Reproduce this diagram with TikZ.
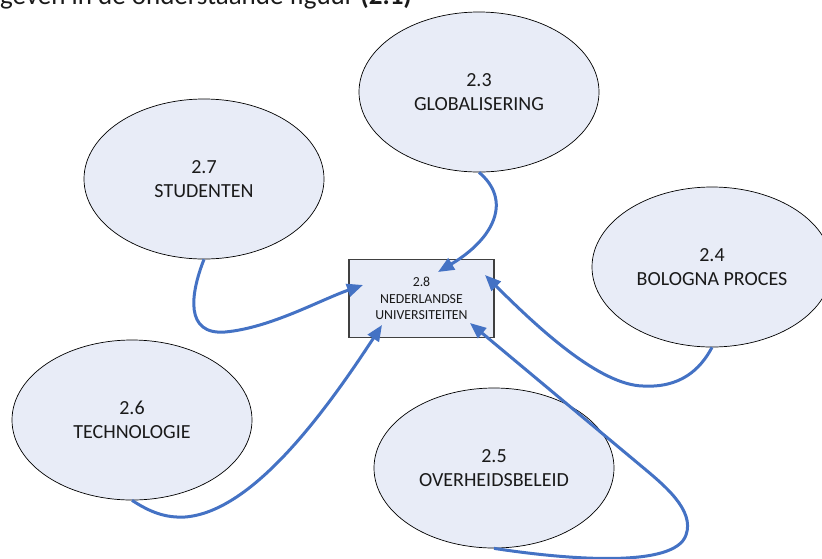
\documentclass[tikz,border=0pt]{standalone}
\usepackage{fontspec}
\setmainfont{Carlito}
\usetikzlibrary{arrows.meta,shapes.geometric}
\definecolor{bolfill}{HTML}{E8ECF7}
\definecolor{pijlblauw}{HTML}{4472C4}
\definecolor{tekst}{HTML}{1A1A1A}
\begin{document}
\begin{tikzpicture}[x=1pt, y=-1pt, >={Triangle[length=16pt,width=13pt]},
  factor/.style={ellipse, draw=black, line width=.7pt, fill=bolfill, minimum width=240pt,
    minimum height=160pt, inner sep=0pt, align=center, text=tekst, font=\fontsize{20}{23.5}\selectfont},
  kern/.style={rectangle, draw=black!75, line width=1.2pt, fill=bolfill, minimum width=145pt,
    minimum height=78pt, inner sep=0pt, align=center, text=tekst, font=\fontsize{13.8}{16.5}\selectfont},
  invloed/.style={->, draw=pijlblauw, line width=3pt}]
\useasboundingbox (0,0) rectangle (822,558);
\clip (0,0) rectangle (822,558);
% inleidende zin, bovenaan afgesneden
\node[anchor=base west, inner sep=0pt, text=tekst, font=\fontsize{27}{31}\selectfont] (intro) at (0,4.5)
  {geven in de onderstaande figuur \textbf{(2.1)}};
% de vijf factoren en de universiteiten
\node[factor] (glob) at (479,92) {2.3\\GLOBALISERING};
\node[factor] (stud) at (204,179) {2.7\\STUDENTEN};
\node[factor] (bolo) at (712,267) {2.4\\BOLOGNA PROCES};
\node[factor] (tech) at (132,420) {2.6\\TECHNOLOGIE};
\node[factor] (over) at (494,468) {2.5\\OVERHEIDSBELEID};
\node[kern] (uni) at (421.5,298.5) {2.8\\NEDERLANDSE\\UNIVERSITEITEN};
\coordinate (inGlob) at (438,272);  \coordinate (inStud) at (363,285);
\coordinate (inTech) at (382,325);  \coordinate (inBolo) at (485,275);
\coordinate (inOver) at (470,323);
% pijlen naar het midden
\draw[invloed] (glob.south) .. controls (512,200) and (495,238) .. (inGlob);
\draw[invloed] (stud.south) .. controls (190,295) and (185,335) .. (225,332)
  .. controls (270,328) and (320,300) .. (inStud);
\draw[invloed] (tech.south) .. controls (150,512) and (165,518) .. (185,517)
  .. controls (250,512) and (320,420) .. (inTech);
\draw[invloed] (bolo.south) .. controls (700,370) and (680,388) .. (643,386)
  .. controls (600,385) and (540,330) .. (inBolo);
\draw[invloed] (over.south) .. controls (570,560) and (675,568) .. (686,535)
  .. controls (695,510) and (664,485) .. (640,465) -- (inOver);
\end{tikzpicture}
\end{document}
